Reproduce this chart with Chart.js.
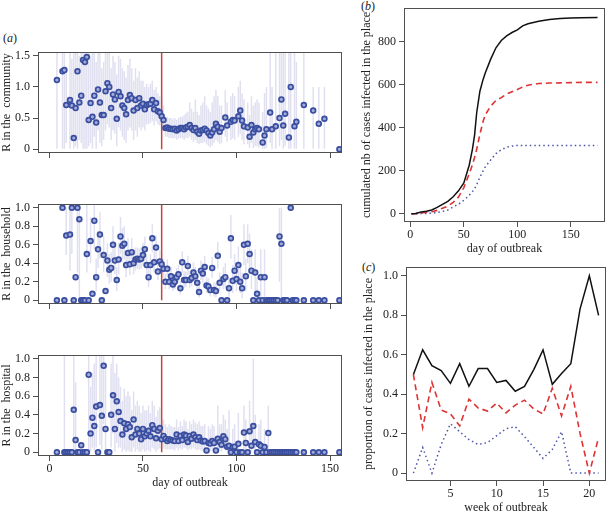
<!DOCTYPE html>
<html>
<head>
<meta charset="utf-8">
<script src="https://cdn.jsdelivr.net/npm/chart.js@4.4.1/dist/chart.umd.min.js"></script>
<style>
  body { margin: 0; background: #fff; width: 607px; height: 515px; position: relative; overflow: hidden; font-family: 'Liberation Serif', 'Times New Roman', serif; }
  canvas { position: absolute; }
  .lab { position: absolute; font-size: 12px; line-height: 12px; color: #222; }
</style>
</head>
<body>
<div class="lab" style="left:3px;top:32px">(<i>a</i>)</div>
<div class="lab" style="left:361px;top:0px">(<i>b</i>)</div>
<div class="lab" style="left:362px;top:261px">(<i>c</i>)</div>

<canvas id="comm" width="350" height="125" style="left:0;top:40px"></canvas>
<canvas id="house" width="350" height="125" style="left:0;top:192px"></canvas>
<canvas id="hosp" width="350" height="172" style="left:0;top:343px"></canvas>
<canvas id="cum" width="257" height="260" style="left:350px;top:0"></canvas>
<canvas id="prop" width="257" height="255" style="left:350px;top:260px"></canvas>

<script>
// ---- panel (a): R by place, day of outbreak ----
const dayTicks = [0, 50, 100, 150];
const commTicks = [0, 0.5, 1.0, 1.5];
const propTicks = [0, 0.2, 0.4, 0.6, 0.8, 1.0];
const redDay = 60;

// community
const commDay = [4,7,8,9,11,12,13,14,15,16,17,18,19,20,21,22,23,24,25,26,27,28,29,30,31,32,33,34,35,36,37,38,39,40,
  41,42,43,44,45,46,47,48,49,50,51,52,53,54,55,56,57,58,59,60,61,
  62,63,64,65,66,67,68,69,70,71,72,73,74,75,76,77,78,79,80,81,82,83,84,85,86,87,88,89,90,91,92,
  94,95,97,98,99,101,102,103,104,106,107,108,109,110,111,112,114,115,116,118,119,121,123,124,125,126,128,129,131,132,136,141,144,147,155];
const commR = [1.11,1.25,1.27,0.71,
  0.79,0.70,0.18,0.66,1.25,0.75,0.86,1.43,1.40,1.48,
  0.47,0.74,0.52,0.86,0.43,0.96,0.75,0.55,0.55,0.93,
  1.06,1.00,0.66,0.88,0.80,0.49,0.92,0.85,0.70,0.66,
  0.56,0.79,0.87,0.82,0.62,0.79,0.66,0.82,0.70,0.73,
  0.64,0.71,0.72,0.73,0.79,0.64,0.74,0.61,0.59,0.53,0.47,
  0.34,0.35,0.33,0.33,0.32,0.33,0.30,0.32,0.34,0.34,
  0.32,0.35,0.36,0.39,0.34,0.31,0.34,0.28,0.25,0.30,
  0.31,0.33,0.30,0.26,0.22,0.27,0.32,0.41,0.36,0.28,0.34,
  0.51,0.38,0.44,0.47,0.46,0.53,0.62,0.46,0.37,0.35,0.20,0.39,0.27,0.32,0.34,0.32,0.11,0.22,0.32,
  0.59,0.32,0.37,0.50,0.80,0.38,0.57,0.19,1.00,0.37,0.44,0.71,0.62,0.41,0.49,0.0];
const commLo = [0,0,0,0.1,
  0,0.2,0,0.05,0,0.15,0.1,0,0,0,
  0.05,0.1,0,0.2,0,0.3,0.1,0.05,0.15,0.3,
  0.4,0.35,0.15,0.3,0.25,0.05,0.35,0.3,0.2,0.15,
  0.1,0.3,0.35,0.3,0.15,0.3,0.2,0.35,0.3,0.35,
  0.3,0.4,0.4,0.42,0.45,0.38,0.45,0.4,0.38,0.35,0.3,
  0.2,0.2,0.18,0.18,0.17,0.18,0.15,0.17,0.18,0.18,
  0.15,0.18,0.18,0.2,0.15,0.12,0.15,0.1,0.08,0.1,
  0.1,0.12,0.08,0.05,0.03,0.06,0.1,0.15,0.12,0.08,0.1,
  0.2,0.12,0.15,0.18,0.15,0.2,0.25,0.15,0.08,0.08,0.02,0.1,0.02,0.05,0.05,0.03,0,0,0.02,
  0.1,0,0,0.05,0.15,0,0.05,0,0,0,0,0,0,0,0,0];
const commHi = [1.6,1.6,1.6,1.3,
  1.6,1.45,1.6,1.6,1.6,1.5,1.6,1.6,1.6,1.6,
  1.6,1.5,1.6,1.6,1.4,1.6,1.6,1.3,1.4,1.6,
  1.6,1.6,1.3,1.5,1.4,1.2,1.5,1.45,1.3,1.25,
  1.15,1.35,1.45,1.3,1.1,1.3,1.15,1.25,1.1,1.1,
  1.0,1.05,1.0,1.05,1.1,0.95,1.0,0.9,0.85,0.8,0.7,
  0.5,0.52,0.5,0.5,0.48,0.5,0.47,0.5,0.52,0.52,
  0.55,0.58,0.6,0.75,0.65,0.6,0.8,0.6,0.55,0.7,
  0.75,0.85,0.7,0.65,0.6,0.75,0.85,0.95,0.85,0.7,0.7,
  0.95,0.75,0.85,0.9,0.85,1.0,1.1,0.9,0.8,0.75,0.55,0.85,0.7,0.75,0.8,0.75,0.6,0.9,1.0,
  1.6,1.0,1.6,1.6,1.6,1.6,1.6,1.6,1.6,1.6,1.4,1.6,1.0,1.0,1.0,0];

// household
const hhDay = [4,7,8,9,11,12,13,14,15,16,17,18,19,20,21,22,23,24,25,26,27,28,29,30,31,32,33,34,35,36,37,38,39,40,
  41,42,43,44,45,46,47,48,49,50,51,52,53,54,55,56,57,58,59,60,61,62,63,64,65,66,67,68,69,70,
  71,72,73,74,75,76,77,78,79,80,81,82,83,84,85,86,87,88,89,90,91,92,93,94,95,96,97,98,99,100,
  101,102,103,104,105,106,107,108,109,110,111,112,113,114,115,116,117,118,119,120,121,122,123,124,125,126,127,
  129,130,131,132,136,141,144,147,155];
const hhR = [0,1.0,0,0.70,
  0.71,1.0,0,0.25,1.0,0.875,0,0,0,0.50,
  0,0.64,0.07,0.86,0.25,0.55,0.71,0,0.49,0.10,
  0.43,0.33,0.35,0.60,0.43,0.22,0.44,0.69,0.59,0.61,
  0.38,0.51,0.39,0.52,0.40,0.44,0.45,0.44,0.45,0.49,
  0.55,0.38,0.25,0.38,0.67,0.41,0.57,0.31,0.42,0.39,
  0.34,0.20,0.34,0.20,0.26,0.17,0.20,0.25,0.28,0.13,
  0.41,0.22,0.22,0.37,0.22,0.24,0.30,0.26,0.19,0.09,
  0.32,0.29,0.36,0.16,0.15,0.11,0.35,0.11,0.10,0.48,
  0.19,0,0.23,0.25,0,0.13,0.67,0.21,0.32,0.23,
  0.38,0.20,0.13,0.60,0.26,0.61,0.50,0.32,0,0.30,
  0.07,0,0.25,0,0.25,0,0,0,0,0,
  0,0,0.69,0.61,0,0,0,
  1.0,0,0,0,0,0,0,0,0];
const hhBarDay = [9,11,12,15,16,20,22,24,25,26,27,29,31,32,33,34,35,36,37,38,
  39,40,41,42,43,44,45,46,47,48,49,50,51,52,53,54,55,56,57,58,59,60,61,
  62,63,64,65,66,67,68,69,70,71,72,73,74,75,76,77,78,79,80,81,82,83,84,85,86,87,88,89,90,91,
  93,94,96,97,98,99,100,101,102,103,104,105,106,107,108,110,111,113,115,123,124];
const hhBarLo = [0.49,0.32,0.5,0.3,0,0.3,0.4,0.55,0.1,0.35,
  0.45,0.3,0.25,0.18,0.2,0.4,0.28,0.1,0.28,0.5,
  0.42,0.44,0.25,0.36,0.27,0.38,0.28,0.32,0.34,0.33,
  0.34,0.37,0.42,0.26,0.14,0.27,0.52,0.3,0.44,0.22,
  0.31,0.29,0.24,0.12,0.25,0.12,0.17,0.1,0.12,0.16,
  0.19,0.06,0.3,0.13,0.14,0.27,0.13,0.15,0.2,0.17,
  0.11,0.03,0.22,0.19,0.25,0.08,0.07,0.04,0.24,0.04,
  0.03,0.34,0.1,0.12,0.13,0.04,0.45,0.08,0.17,0.1,
  0.2,0.08,0.02,0.38,0.1,0.4,0.28,0.12,0.08,0,
  0,0,0.2,0];
const hhBarHi = [1.0,1.0,1.0,1.0,1.04,1.04,0.9,1.04,0.45,0.75,
  0.95,0.7,0.62,0.5,0.52,0.8,0.6,0.36,0.62,0.9,
  0.78,0.8,0.52,0.67,0.52,0.67,0.53,0.57,0.57,0.56,
  0.57,0.62,0.69,0.5,0.37,0.5,0.82,0.53,0.7,0.42,
  0.54,0.5,0.45,0.29,0.44,0.29,0.36,0.26,0.29,0.35,
  0.38,0.21,0.53,0.32,0.31,0.48,0.32,0.34,0.41,0.36,
  0.28,0.17,0.43,0.4,0.48,0.25,0.24,0.19,0.47,0.2,
  0.19,0.63,0.3,0.36,0.4,0.25,0.92,0.38,0.5,0.4,
  0.58,0.35,0.3,0.82,0.45,0.82,0.72,0.55,0.55,0.25,
  0.55,0.55,1.0,1.0];

// hospital
const hpDay = [4,8,9,10,11,12,13,14,15,16,17,18,19,20,21,22,23,24,25,26,27,28,29,30,
  31,32,33,34,35,36,37,38,39,40,41,42,43,44,45,46,47,48,49,50,51,52,53,54,55,56,57,58,59,60,
  61,62,63,64,65,66,67,68,69,70,71,72,73,74,75,76,77,78,79,80,81,82,83,84,85,86,87,88,89,90,
  91,92,93,94,95,96,97,98,99,100,101,102,103,104,105,106,107,108,109,110,111,112,113,114,115,116,117,
  118,119,120,121,122,123,124,125,126,127,128,129,130,131,132,136,141,144,147,155];
const hpR = [0,0,0,0,0,0,
  0.455,0.13,0,0,0.075,0,0,0,
  0.83,0.20,0.37,0.28,0.49,0,0.505,0.39,0.925,0.25,
  0,0,0.40,0.61,0.25,0.545,0.43,0.335,0.19,0.31,
  0.25,0.30,0.27,0.16,0.35,0.19,0.25,0.20,0.14,0.25,
  0.17,0.20,0.23,0.17,0.29,0.25,0.15,0.23,0.26,0.14,
  0.175,0.145,0.12,0.14,0.13,0.125,0.12,0.19,0.12,0.175,
  0.13,0.19,0.18,0.11,0.175,0.145,0.19,0.16,0.13,0.16,
  0.125,0.115,0.12,0.02,0.10,0.095,0.12,0.10,0.02,0.145,
  0.11,0.08,0.17,0.14,0.06,0.07,0,0.055,0.06,0,
  0.09,0,0,0.21,0.10,0,0.225,0.07,0.28,0.11,
  0,0.085,0.07,0,0.055,0,0.205,
  0,0,0,0,0,0,0,0,0,0,0,0,0,0,0,
  0,0,0,0,0];
const hpBarDay = [8,13,14,21,22,23,24,25,27,28,29,30,33,34,35,36,37,38,39,40,
  41,42,43,44,45,46,47,48,49,50,51,52,53,54,55,56,57,58,59,60,
  61,62,63,64,65,66,67,68,69,70,71,72,73,74,75,76,77,78,79,80,
  81,82,83,85,86,87,88,90,91,92,93,94,95,96,98,99,101,104,105,107,108,109,110,112,113,115,117];
const hpBarLo = [0,0,0,0,0,0.05,0,0.05,0.08,0.03,
  0.3,0,0.05,0.2,0,0.1,0.05,0.05,0,0.03,
  0,0.02,0,0,0.05,0,0.03,0,0,0.03,
  0,0.02,0.02,0,0.05,0.03,0,0.03,0.04,0.02,
  0.04,0.03,0.03,0.03,0.03,0.03,0.02,0.05,0.02,0.04,
  0.03,0.05,0.04,0.02,0.04,0.03,0.05,0.03,0.02,0.03,
  0.02,0.02,0.02,0.01,0.01,0.02,0.01,0.02,0.01,0,
  0.03,0.02,0,0,0,0,0,0.02,0,0.03,
  0,0.05,0,0,0,0,0.02];
const hpBarHi = [1.04,1.04,0.75,1.04,0.7,0.85,0.95,1.04,1.04,1.04,
  1.04,0.9,0.95,1.04,0.85,0.95,0.8,0.7,0.55,0.68,
  0.6,0.65,0.6,0.45,0.65,0.5,0.55,0.5,0.42,0.5,
  0.45,0.45,0.5,0.42,0.55,0.5,0.38,0.45,0.48,0.35,
  0.35,0.3,0.27,0.3,0.28,0.27,0.27,0.35,0.27,0.33,
  0.28,0.35,0.33,0.25,0.33,0.3,0.35,0.32,0.3,0.33,
  0.28,0.28,0.3,0.28,0.25,0.3,0.28,0.5,0.3,0.3,
  0.4,0.35,0.25,0.45,0.25,0.3,0.42,0.5,0.35,0.55,
  0.3,1.0,0.4,0.3,0.35,0.25,0.5];

// ---- panel (b): cumulated cases ----
const cumTicks = [0, 200, 400, 600, 800];
const cumDay = [1,5,10,15,20,25,30,35,40,45,50,55,58,60,62,65,68,70,75,80,85,90,95,100,105,110,120,130,140,150,160,175];
const cumAll = [0,2,8,12,18,30,44,58,79,107,144,226,300,365,470,570,625,655,718,772,806,827,843,855,874,884,895,903,908,911,912,913];
const cumRed = [0,1,4,7,10,16,26,36,53,78,122,186,228,262,300,370,430,460,500,527,540,557,568,578,590,598,606,608,609,610,611,611];
const cumBlue = [0,0,1,2,3,6,11,18,32,45,63,86,103,117,135,170,200,218,250,280,298,310,315,318,318,318,318,318,318,318,318,318];

// ---- panel (c): weekly proportion ----
const weekTicks = [5, 10, 15, 20];
const weeks = [1,2,3,4,5,6,7,8,9,10,11,12,13,14,15,16,17,18,19,20,21];
const propAll = [0.50,0.625,0.545,0.52,0.455,0.555,0.44,0.53,0.53,0.46,0.47,0.415,0.44,0.525,0.625,0.45,0.505,0.555,0.833,1.0,0.80];
const propRed = [0.50,0.23,0.46,0.32,0.30,0.24,0.375,0.33,0.315,0.355,0.305,0.345,0.37,0.325,0.30,0.43,0.29,0.44,0.20,0.0,0.18];
const propBlue = [0,0.13,0,0.145,0.25,0.21,0.17,0.145,0.155,0.19,0.225,0.235,0.185,0.13,0.075,0.12,0.21,0,0,0,0];

// ---- shared setup ----
Chart.defaults.font.family = "'Liberation Serif', 'Times New Roman', serif";
Chart.defaults.font.size = 12;
Chart.defaults.color = '#222';
Chart.defaults.animation = false;
Chart.defaults.plugins.legend.display = false;
Chart.defaults.plugins.tooltip.enabled = false;

const frame = {
  id: 'frame',
  afterDraw(chart) {
    const a = chart.chartArea;
    const ctx = chart.ctx;
    ctx.save();
    ctx.strokeStyle = '#505050';
    ctx.lineWidth = 1;
    ctx.strokeRect(Math.round(a.left) + 0.5, Math.round(a.top) + 0.5,
      Math.round(a.right - a.left) - 1, Math.round(a.bottom - a.top) - 1);
    ctx.restore();
  }
};

const tickGrid = { display: true, drawOnChartArea: false, drawTicks: true, tickLength: 5, color: '#505050', offset: false };
const fmtDec = (v) => v === 0 ? '0' : v.toFixed(1);
const fmtInt = (v) => String(v);

function xAxis(min, max, ticks, h, title, showLabels, titlePad) {
  return {
    type: 'linear', min: min, max: max, offset: false,
    afterBuildTicks: (s) => { s.ticks = ticks.map((v) => ({ value: v })); },
    afterFit: (s) => { s.height = h; s.paddingLeft = 0; s.paddingRight = 0; },
    grid: tickGrid,
    border: { display: false },
    ticks: { display: showLabels, padding: 1, maxRotation: 0, autoSkip: false, callback: fmtInt },
    title: { display: !!title, text: title, padding: { top: 0, bottom: titlePad } }
  };
}

function yAxis(min, max, ticks, w, title, fmt, titlePad) {
  return {
    type: 'linear', min: min, max: max,
    afterBuildTicks: (s) => { s.ticks = ticks.map((v) => ({ value: v })); },
    afterFit: (s) => { s.width = w; s.paddingTop = 0; s.paddingBottom = 0; },
    grid: tickGrid,
    border: { display: false },
    ticks: { padding: 3, autoSkip: false, callback: fmt },
    title: { display: true, text: title, padding: { top: titlePad, bottom: 0 } }
  };
}

function panelA(id, days, r, barDays, lo, hi, yMin, yMax, yTicks, yTitle, xH, showX) {
  new Chart(document.getElementById(id), {
    type: 'bar',
    data: {
      datasets: [
        {
          type: 'scatter',
          data: days.map((d, i) => ({ x: d, y: r[i] })),
          pointRadius: 2.4, borderWidth: 1.7,
          borderColor: '#3a4ea0', backgroundColor: '#a3acd8',
          order: 0
        },
        {
          type: 'line',
          data: [{ x: redDay, y: 0 }, { x: redDay, y: yMax }],
          borderColor: '#c8453f', borderWidth: 1.5, pointRadius: 0,
          order: 1
        },
        {
          type: 'bar',
          data: barDays.map((d, i) => ({ x: d, y: [lo[i], hi[i]] })),
          backgroundColor: 'rgb(224,224,241)', barThickness: 1.5, inflateAmount: 0, grouped: false,
          order: 2
        }
      ]
    },
    options: {
      responsive: false,
      layout: { padding: { top: 12, right: 8, left: 0, bottom: 0 } },
      scales: {
        x: xAxis(-6.1, 156.4, dayTicks, xH, showX ? 'day of outbreak' : '', showX, 25),
        y: yAxis(yMin, yMax, yTicks, 38, yTitle, fmtDec, 0)
      }
    },
    plugins: [frame]
  });
}

panelA('comm', commDay, commR, commDay, commLo, commHi, -0.06, 1.56, commTicks, 'R in the  community', 12, false);
panelA('house', hhDay, hhR, hhBarDay, hhBarLo, hhBarHi, -0.04, 1.04, propTicks, 'R in the  household', 13, false);
panelA('hosp', hpDay, hpR, hpBarDay, hpBarLo, hpBarHi, -0.04, 1.04, propTicks, 'R in the  hospital', 59, true);

function lineSet(xs, ys, color, dash, width) {
  return {
    data: xs.map((x, i) => ({ x: x, y: ys[i] })),
    borderColor: color, borderDash: dash, borderWidth: width,
    pointRadius: 0, tension: 0, fill: false
  };
}

new Chart(document.getElementById('cum'), {
  type: 'line',
  data: {
    datasets: [
      lineSet(cumDay, cumAll, '#111', [], 1.5),
      lineSet(cumDay, cumRed, '#dd3333', [6, 4], 1.6),
      lineSet(cumDay, cumBlue, '#4a55a8', [1.5, 3], 1.5)
    ]
  },
  options: {
    responsive: false,
    layout: { padding: { top: 8, right: 2, left: 0, bottom: 0 } },
    scales: {
      x: xAxis(-5.96, 181.96, dayTicks, 38, 'day of outbreak', true, 4),
      y: yAxis(-38, 957, cumTicks, 54, 'cumulated nb of cases infected in the place', fmtInt, 10)
    }
  },
  plugins: [frame]
});

new Chart(document.getElementById('prop'), {
  type: 'line',
  data: {
    datasets: [
      lineSet(weeks, propAll, '#111', [], 1.5),
      lineSet(weeks, propRed, '#dd3333', [6, 4], 1.6),
      lineSet(weeks, propBlue, '#4a55a8', [1.5, 3], 1.5)
    ]
  },
  options: {
    responsive: false,
    layout: { padding: { top: 7, right: 1, left: 0, bottom: 0 } },
    scales: {
      x: xAxis(0.2, 21.8, weekTicks, 34, 'week of outbreak', true, 0),
      y: yAxis(-0.04, 1.045, propTicks, 56, 'proportion of cases infected in the place', fmtDec, 12)
    }
  },
  plugins: [frame]
});
</script>
</body>
</html>
